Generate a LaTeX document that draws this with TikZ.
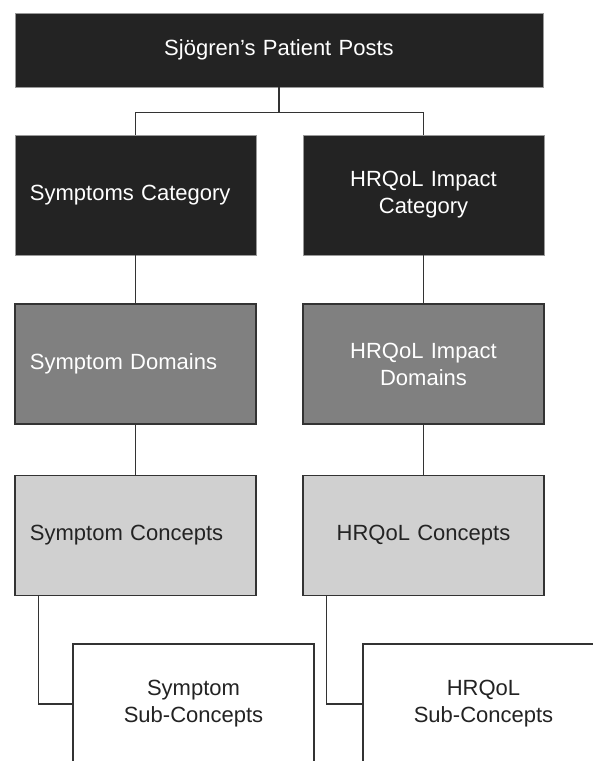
\documentclass[tikz,border=0pt]{standalone}
\usepackage{fontspec}
\setmainfont{Liberation Sans}
\usepackage{tikz}
\usetikzlibrary{positioning}

\definecolor{darkbox}{HTML}{232323}
\definecolor{midbox}{HTML}{808080}
\definecolor{lightbox}{HTML}{D0D0D0}
\definecolor{edgegray}{HTML}{333333}

\begin{document}
\begin{tikzpicture}[x=1pt, y=-1pt]
			\tikzstyle{Box}		= [rectangle, inner xsep=15pt, inner ysep=0pt, text width=211pt, minimum height=120pt, font=\fontsize{22}{27}\selectfont]
			\tikzstyle{Dark}	= [Box, fill=darkbox, draw=gray!80, line width=0.8pt, text=white]
			\tikzstyle{Mid}		= [Box, fill=midbox, draw=edgegray, line width=1.4pt, text=white]
			\tikzstyle{Light}	= [Box, fill=lightbox, draw=edgegray, line width=1.4pt, text=darkbox]
			\tikzstyle{Plain}	= [Box, fill=white, draw=edgegray, line width=1.4pt, text=darkbox]
			\tikzstyle{Link}	= [edgegray, line width=1.4pt]

			\useasboundingbox (0,0) rectangle (593,761);
			\clip (0,0) rectangle (593,761);

			\node (posts) at (279, 50) [Dark, text width=498pt, minimum height=74pt, align=center] {Sjögren’s Patient Posts};

			% symptom side
			\node (symcat) at (135.5, 195) [Dark, align=left] {Symptoms Category};
			\node (symdom) at (135.5, 364) [Mid, align=left] {Symptom Domains};
			\node (symcon) at (135.5, 535.5) [Light, align=left] {Symptom Concepts};
			\node (symsub) at (193.5, 704) [Plain, align=center] {Symptom\\Sub-Concepts};

			% HRQoL side
			\node (hrqcat) at (423.5, 195) [Dark, align=center] {HRQoL Impact\\Category};
			\node (hrqdom) at (423.5, 364) [Mid, align=center] {HRQoL Impact\\Domains};
			\node (hrqcon) at (423.5, 535.5) [Light, align=center] {HRQoL Concepts};
			\node (hrqsub) at (483.5, 704) [Plain, align=center] {HRQoL\\Sub-Concepts};

			\foreach \s in {symcat, hrqcat}
				\draw [Link] (posts.south) -- ++(0,25) -| (\s.north);
			\foreach \a/\b in {symcat/symdom, symdom/symcon, hrqcat/hrqdom, hrqdom/hrqcon}
				\draw [Link] (\a.south) -- (\b.north);
			\foreach \a/\b in {symcon/symsub, hrqcon/hrqsub}
				\draw [Link] ([xshift=24pt]\a.south west) |- (\b.west);
		\end{tikzpicture}
\end{document}
